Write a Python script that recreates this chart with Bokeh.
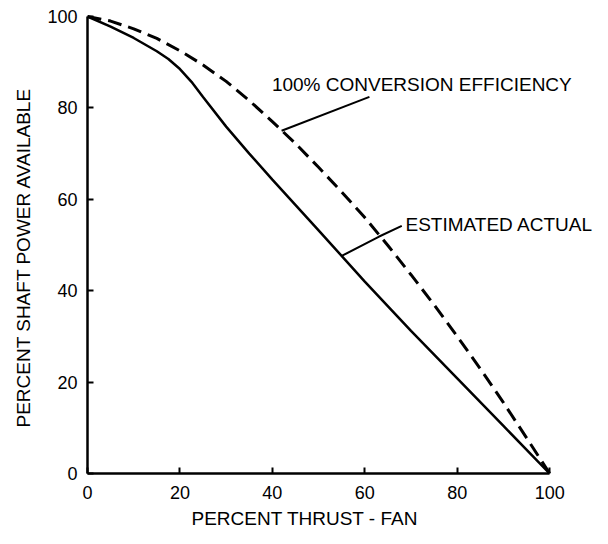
from bokeh.plotting import figure
from bokeh.models import Range1d, FixedTicker, Label, Title
from bokeh.embed import file_html
from bokeh.resources import INLINE

# Data
thrust_ideal = [0, 5, 10, 15, 20, 25, 30, 35, 40, 45, 50, 55, 60, 65, 70, 75, 80, 85, 90, 95, 100]
power_ideal = [100, 99.0, 97.3, 95.2, 92.5, 89.4, 85.8, 81.6, 77.0, 72.2, 67.0, 61.6, 56.0, 49.9, 43.5, 36.9, 30.0, 22.9, 15.5, 7.8, 0]

thrust_actual = [0, 5, 10, 15, 17.5, 20, 22.5, 25, 30, 35, 40, 50, 60, 70, 80, 90, 100]
power_actual = [100, 97.8, 95.3, 92.4, 90.7, 88.5, 85.7, 82.4, 75.9, 70.0, 64.3, 53.2, 42.0, 31.2, 20.8, 10.4, 0]

tick_values = [0, 20, 40, 60, 80, 100]

x_title = "PERCENT THRUST - FAN"
y_title = "PERCENT SHAFT POWER AVAILABLE"

label_texts = ["100% CONVERSION EFFICIENCY", "ESTIMATED ACTUAL"]
label_x = [39.9, 68.8]
label_y = [85.2, 54.4]

# leader lines (annotation geometry)
leader1_x = [42, 61]
leader1_y = [75.0, 82.4]
leader2_x = [55, 63, 68]
leader2_y = [47.6, 51.8, 54.2]

FONT = "Liberation Sans"

p = figure(width=600, height=536,
           x_range=Range1d(0, 111), y_range=Range1d(0, 103.5),
           output_backend="svg", toolbar_location=None,
           min_border_left=86, min_border_right=0,
           min_border_top=0, min_border_bottom=63)
p.grid.visible = False
p.outline_line_color = None
p.background_fill_color = "white"
p.border_fill_color = "white"

p.line(thrust_ideal, power_ideal, line_color="black", line_width=3, line_dash="14 7")
p.line(thrust_actual, power_actual, line_color="black", line_width=2.5)

p.line(leader1_x, leader1_y, line_color="black", line_width=2)
p.line(leader2_x, leader2_y, line_color="black", line_width=2)

for t, x, y in zip(label_texts, label_x, label_y):
    p.add_layout(Label(x=x, y=y, text=t, text_font=FONT, text_font_size="19px",
                       text_color="black", text_baseline="middle", text_align="left"))

for ax in (p.xaxis[0], p.yaxis[0]):
    ax.ticker = FixedTicker(ticks=tick_values)
    ax.bounds = (0, 100)
    ax.axis_line_width = 2.5
    ax.axis_line_color = "black"
    ax.major_tick_in = 6
    ax.major_tick_out = 0
    ax.major_tick_line_width = 2
    ax.major_tick_line_color = "black"
    ax.minor_tick_line_color = None
    ax.major_label_text_font = FONT
    ax.major_label_text_font_size = "18px"
    ax.major_label_text_color = "black"

p.xaxis.major_label_standoff = 12
p.yaxis.major_label_standoff = 10

xt = Title(text=x_title, align="left", offset=104, text_font=FONT,
           text_font_size="19px", text_font_style="normal", text_color="black", standoff=8)
p.add_layout(xt, "below")
yt = Title(text=y_title, align="left", offset=46, text_font=FONT,
           text_font_size="19px", text_font_style="normal", text_color="black", standoff=21)
p.add_layout(yt, "left")

open("out.html", "w").write(file_html(p, INLINE))
